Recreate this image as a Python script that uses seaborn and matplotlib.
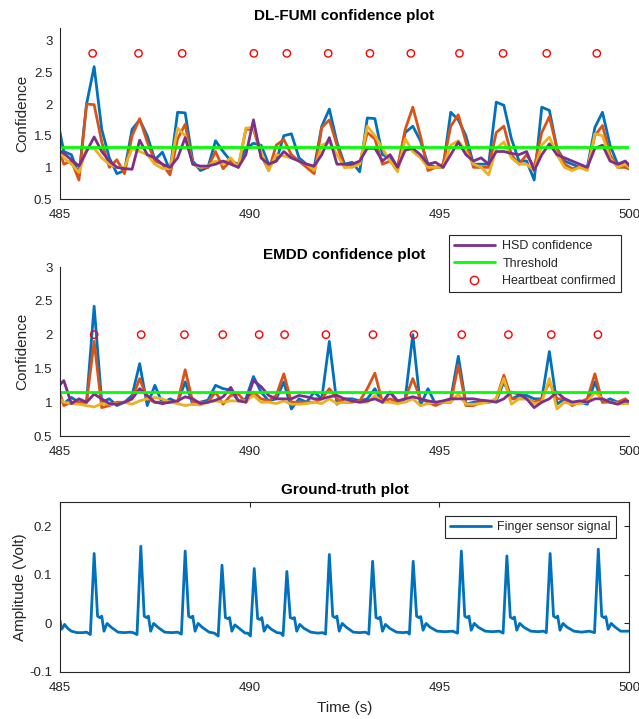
import numpy as np
import pandas as pd
import matplotlib
matplotlib.use("Agg")
import matplotlib.pyplot as plt
import seaborn as sns
from matplotlib.lines import Line2D

# ---------------- data ----------------
t_conf = np.round(484.9 + 0.2 * np.arange(77), 1)

fumi_blue = [1.85, 1.25, 1.2, 0.88, 2.0, 2.59, 1.6, 1.15, 0.9, 0.95,
             1.6, 1.75, 1.5, 1.12, 1.24, 0.95, 1.87, 1.86, 1.1, 0.95,
             1.0, 1.42, 1.25, 1.1, 1.05, 1.3, 1.38, 1.35, 1.05, 1.1,
             1.5, 1.53, 1.15, 1.05, 1.0, 1.65, 1.92, 1.4, 1.05, 1.08,
             0.93, 1.78, 1.77, 1.2, 1.15, 1.0, 1.55, 1.65, 1.42, 1.05,
             1.0, 1.0, 1.87, 1.75, 1.5, 1.05, 1.05, 1.05, 2.03, 1.98,
             1.45, 1.1, 1.1, 0.8, 1.95, 1.9, 1.3, 1.1, 1.05, 1.0,
             1.0, 1.63, 1.87, 1.35, 1.05, 1.05, 1.05]
fumi_orange = [1.45, 1.05, 1.1, 0.8, 2.0, 1.99, 1.4, 1.0, 1.12, 0.9,
               1.5, 1.77, 1.4, 1.1, 1.05, 0.88, 1.45, 1.68, 1.05, 1.0,
               1.0, 1.25, 0.98, 1.1, 1.0, 1.6, 1.6, 1.2, 0.95, 1.35,
               1.44, 1.2, 1.1, 1.0, 0.9, 1.63, 1.75, 1.35, 1.0, 1.05,
               1.05, 1.55, 1.45, 1.05, 1.1, 1.0, 1.6, 1.95, 1.5, 0.95,
               1.0, 1.05, 1.65, 1.83, 1.4, 1.0, 1.0, 1.0, 1.55, 1.65,
               1.2, 1.05, 1.2, 1.0, 1.55, 1.8, 1.3, 1.05, 0.98, 1.0,
               0.97, 1.5, 1.66, 1.2, 1.0, 1.0, 0.95]
fumi_yellow = [1.35, 1.15, 1.05, 0.92, 1.3, 1.3, 1.15, 1.05, 1.0, 1.0,
               1.3, 1.25, 1.2, 1.05, 0.98, 0.98, 1.62, 1.5, 1.05, 1.0,
               1.02, 1.1, 1.05, 1.15, 1.0, 1.62, 1.63, 1.25, 0.95, 1.2,
               1.18, 1.15, 1.1, 1.05, 0.95, 1.35, 1.4, 1.2, 1.0, 1.0,
               1.05, 1.65, 1.5, 1.3, 1.1, 0.93, 1.45, 1.25, 1.15, 1.0,
               1.0, 1.0, 1.35, 1.42, 1.25, 1.05, 1.0, 0.88, 1.3, 1.4,
               1.15, 1.05, 1.05, 0.95, 1.35, 1.48, 1.2, 1.0, 0.95, 1.0,
               0.95, 1.53, 1.5, 1.15, 1.0, 1.05, 0.95]
fumi_hsd = [1.3, 1.22, 1.12, 1.02, 1.25, 1.48, 1.25, 1.1, 1.0, 0.98,
            0.97, 1.43, 1.2, 1.15, 1.05, 1.0, 1.15, 1.47, 1.05, 1.02,
            1.02, 1.05, 1.1, 1.05, 1.0, 1.2, 1.75, 1.15, 1.05, 1.1,
            1.25, 1.15, 1.1, 1.05, 1.02, 1.2, 1.47, 1.05, 1.05, 1.05,
            1.1, 1.3, 1.3, 1.1, 1.2, 1.0, 1.27, 1.3, 1.2, 1.05,
            1.08, 1.0, 1.2, 1.4, 1.2, 1.1, 1.15, 1.05, 1.25, 1.25,
            1.22, 1.2, 1.25, 0.95, 1.2, 1.37, 1.2, 1.15, 1.1, 1.05,
            1.0, 1.3, 1.35, 1.1, 1.05, 1.1, 0.97]

emdd_blue = [1.2, 0.98, 1.07, 1.0, 1.0, 2.42, 1.0, 1.05, 0.95, 1.0,
             1.1, 1.57, 0.95, 1.25, 0.98, 1.05, 1.0, 1.3, 0.97, 1.0,
             1.03, 1.25, 1.2, 1.18, 1.02, 1.05, 1.38, 1.15, 1.02, 1.05,
             1.3, 0.9, 1.05, 1.0, 1.15, 1.05, 1.9, 0.97, 1.05, 1.05,
             1.02, 1.05, 1.2, 1.0, 1.15, 1.0, 1.05, 2.0, 0.95, 1.2,
             0.97, 1.0, 1.05, 1.68, 0.97, 1.0, 1.0, 1.0, 1.02, 1.3,
             1.05, 1.1, 1.1, 1.05, 1.05, 1.75, 0.97, 1.05, 1.0, 1.0,
             0.97, 1.3, 1.0, 1.05, 1.0, 1.0, 1.0]
emdd_orange = [1.3, 0.95, 1.0, 1.0, 1.0, 1.9, 0.92, 0.95, 1.0, 1.0,
               1.05, 1.35, 1.05, 1.0, 1.0, 1.0, 1.0, 1.48, 1.0, 1.0,
               1.0, 1.15, 0.97, 1.1, 1.12, 1.0, 1.15, 1.05, 1.02, 1.1,
               1.42, 1.0, 1.0, 1.0, 1.0, 1.05, 1.2, 1.05, 1.0, 1.0,
               1.02, 1.2, 1.43, 1.0, 1.05, 1.0, 1.05, 1.35, 1.05, 1.0,
               0.95, 1.0, 1.0, 1.55, 0.95, 0.95, 1.0, 1.0, 1.05, 1.4,
               1.05, 1.05, 1.05, 1.0, 1.05, 1.3, 1.05, 1.05, 0.95, 1.0,
               1.05, 1.42, 1.0, 1.0, 1.0, 1.05, 0.95]
emdd_yellow = [1.1, 1.0, 0.98, 0.97, 0.95, 0.93, 0.98, 0.97, 0.98, 1.0,
               0.97, 1.02, 1.05, 1.07, 1.05, 1.0, 0.98, 0.95, 0.97, 0.96,
               1.0, 1.02, 1.0, 1.02, 1.02, 1.02, 1.1, 1.0, 1.0, 0.98,
               1.02, 0.97, 0.97, 0.98, 1.0, 0.98, 1.05, 0.98, 1.0, 1.02,
               1.0, 1.0, 1.1, 1.0, 1.0, 0.98, 1.0, 1.05, 0.95, 0.98,
               1.0, 1.0, 1.0, 1.12, 0.97, 0.97, 0.98, 1.0, 1.05, 1.35,
               0.97, 1.05, 1.05, 0.98, 1.0, 1.35, 0.9, 1.0, 0.97, 0.98,
               1.0, 1.15, 1.05, 1.0, 0.98, 0.98, 0.97]
emdd_hsd = [1.2, 1.32, 0.98, 1.05, 1.0, 1.12, 1.05, 0.98, 0.97, 1.0,
            1.05, 1.2, 1.1, 1.0, 0.98, 1.0, 1.02, 1.08, 1.05, 0.98,
            1.0, 1.03, 1.08, 1.22, 1.02, 1.0, 1.32, 1.23, 1.1, 1.05,
            1.05, 1.05, 1.1, 1.08, 1.05, 1.05, 1.08, 1.1, 1.05, 1.02,
            1.0, 1.02, 1.05, 1.0, 1.15, 1.02, 1.05, 1.08, 1.05, 1.02,
            1.0, 1.02, 1.05, 1.05, 1.05, 1.05, 1.03, 1.02, 1.0, 1.05,
            1.15, 1.12, 1.05, 0.92, 1.0, 1.05, 1.15, 1.05, 1.0, 1.02,
            1.0, 1.05, 1.05, 1.0, 0.97, 1.02, 1.0]

fumi_threshold = 1.32
emdd_threshold = 1.15

fumi_beats = [485.86, 487.07, 488.22, 490.11, 490.98, 492.07, 493.17,
              494.25, 495.53, 496.68, 497.83, 499.15]
fumi_beat_level = 2.8
emdd_beats = [485.90, 487.14, 488.28, 489.29, 490.25, 490.92, 492.01,
              493.25, 494.33, 495.59, 496.82, 497.95, 499.18]
emdd_beat_level = 2.0

gt_t = [485.00, 485.04, 485.08, 485.12, 485.20, 485.30, 485.45, 485.60, 485.70, 485.80,
        485.90, 485.99, 486.05, 486.10, 486.16, 486.24, 486.35, 486.53, 486.70, 486.85,
        486.93, 487.03,
        487.13, 487.22, 487.28, 487.33, 487.39, 487.47, 487.58, 487.76, 487.95, 488.10,
        488.20,
        488.30, 488.39, 488.45, 488.50, 488.56, 488.64, 488.75, 488.93, 489.07, 489.17,
        489.27, 489.36, 489.42, 489.47, 489.53, 489.61, 489.72, 489.88, 489.95, 490.02,
        490.12, 490.21, 490.27, 490.32, 490.38, 490.46, 490.57, 490.72, 490.82, 490.88,
        490.98, 491.07, 491.13, 491.18, 491.24, 491.32, 491.43, 491.61, 491.80, 491.92,
        492.00,
        492.10, 492.19, 492.25, 492.30, 492.36, 492.44, 492.55, 492.73, 492.90, 493.05,
        493.14,
        493.24, 493.33, 493.39, 493.44, 493.50, 493.58, 493.69, 493.87, 494.05, 494.15,
        494.21,
        494.31, 494.40, 494.46, 494.51, 494.57, 494.65, 494.76, 494.94, 495.15, 495.35,
        495.48,
        495.58, 495.67, 495.73, 495.78, 495.84, 495.92, 496.03, 496.21, 496.40, 496.58,
        496.68,
        496.78, 496.87, 496.93, 496.98, 497.04, 497.12, 497.23, 497.41, 497.60, 497.75,
        497.82,
        497.92, 498.01, 498.07, 498.12, 498.18, 498.26, 498.37, 498.55, 498.75, 498.95,
        499.09,
        499.19, 499.28, 499.34, 499.39, 499.45, 499.53, 499.64, 499.78, 499.90, 500.00]
gt_v = [0.006, -0.012, -0.008, -0.002, -0.010, -0.016, -0.019, -0.019, -0.018, -0.023,
        0.144, 0.015, 0.012, 0.015, -0.016, 0.000, -0.008, -0.018, -0.019, -0.018,
        -0.019, -0.023,
        0.159, 0.015, 0.012, 0.015, -0.016, 0.000, -0.008, -0.018, -0.019, -0.018,
        -0.022,
        0.149, 0.015, 0.012, 0.015, -0.016, 0.000, -0.008, -0.018, -0.020, -0.026,
        0.120, 0.012, 0.010, 0.012, -0.016, -0.003, -0.010, -0.020, -0.020, -0.026,
        0.113, 0.010, 0.008, 0.012, -0.016, -0.004, -0.012, -0.019, -0.020, -0.025,
        0.107, 0.012, 0.010, 0.012, -0.016, -0.002, -0.010, -0.018, -0.020, -0.019,
        -0.022,
        0.142, 0.015, 0.012, 0.015, -0.016, 0.000, -0.008, -0.018, -0.019, -0.018,
        -0.022,
        0.128, 0.012, 0.010, 0.013, -0.016, -0.002, -0.010, -0.018, -0.019, -0.018,
        -0.022,
        0.128, 0.015, 0.012, 0.014, -0.014, 0.000, -0.008, -0.016, -0.017, -0.016,
        -0.020,
        0.149, 0.015, 0.012, 0.015, -0.014, 0.000, -0.008, -0.016, -0.017, -0.016,
        -0.020,
        0.139, 0.013, 0.010, 0.013, -0.014, 0.000, -0.008, -0.016, -0.017, -0.016,
        -0.019,
        0.144, 0.015, 0.012, 0.015, -0.014, 0.000, -0.008, -0.016, -0.018, -0.016,
        -0.019,
        0.153, 0.015, 0.012, 0.014, -0.012, 0.000, -0.008, -0.016, -0.016, -0.016]

x_ticks = [485, 490, 495, 500]
conf_yticks = [0.5, 1, 1.5, 2, 2.5, 3]
conf_yticklabels = ["0.5", "1", "1.5", "2", "2.5", "3"]
gt_yticks = [-0.1, 0, 0.1, 0.2]
gt_yticklabels = ["-0.1", "0", "0.1", "0.2"]

# ---------------- style ----------------
sns.set_style("white")
plt.rcParams['font.family'] = ['Liberation Sans', 'DejaVu Sans']
AX_COL = '#262626'
plt.rcParams.update({
    'axes.edgecolor': AX_COL, 'xtick.color': AX_COL, 'ytick.color': AX_COL,
    'axes.labelcolor': AX_COL, 'axes.linewidth': 0.8,
    'xtick.direction': 'in', 'ytick.direction': 'in',
    'xtick.major.size': 3.5, 'ytick.major.size': 3.5,
    'xtick.major.width': 0.8, 'ytick.major.width': 0.8,
})

C_BLUE, C_ORANGE, C_YELLOW, C_PURPLE = '#0072BD', '#D95319', '#EDB120', '#7E2F8E'
C_GREEN, C_RED = '#00FF00', '#FF0000'
LW = 2.0
XPAD, YPAD = 7.5, 5.5

fig = plt.figure(figsize=(6.39, 7.19), dpi=100)
ax1 = fig.add_axes([0.0939, 0.7232, 0.8905, 0.2378])
ax2 = fig.add_axes([0.0939, 0.3936, 0.8905, 0.2350])
ax3 = fig.add_axes([0.0939, 0.0654, 0.8905, 0.2364])


def conf_panel(ax, blue, orange, yellow, hsd, thr, beats, level, title, ylim_top):
    for vals, col in [(blue, C_BLUE), (orange, C_ORANGE), (yellow, C_YELLOW), (hsd, C_PURPLE)]:
        sns.lineplot(x=t_conf, y=vals, ax=ax, color=col, linewidth=LW,
                     estimator=None, sort=False)
    ax.axhline(thr, color=C_GREEN, linewidth=LW)
    sns.scatterplot(x=beats, y=[level] * len(beats), ax=ax, marker='o', s=28,
                    facecolor='none', edgecolor=C_RED, linewidth=1.0, zorder=5)
    ax.set_xlim(485, 500)
    ax.set_ylim(0.5, ylim_top)
    ax.set_xticks(x_ticks)
    ax.set_xticklabels([str(v) for v in x_ticks], fontsize=9.5)
    ax.set_yticks(conf_yticks)
    ax.set_yticklabels(conf_yticklabels, fontsize=9.5)
    ax.set_ylabel('Confidence', fontsize=11, labelpad=3)
    ax.set_xlabel('')
    ax.set_title(title, fontsize=11, fontweight='bold', color='black', pad=6)
    for s in ['top', 'right']:
        ax.spines[s].set_visible(False)
    ax.tick_params(axis='both', which='both', top=False, right=False)
    ax.tick_params(axis='x', pad=XPAD)
    ax.tick_params(axis='y', pad=YPAD)


conf_panel(ax1, fumi_blue, fumi_orange, fumi_yellow, fumi_hsd, fumi_threshold,
           fumi_beats, fumi_beat_level, 'DL-FUMI confidence plot', 3.2)
conf_panel(ax2, emdd_blue, emdd_orange, emdd_yellow, emdd_hsd, emdd_threshold,
           emdd_beats, emdd_beat_level, 'EMDD confidence plot', 3.0)

handles = [Line2D([], [], color=C_PURPLE, linewidth=LW),
           Line2D([], [], color=C_GREEN, linewidth=LW),
           Line2D([], [], color=C_RED, marker='o', linestyle='none',
                  markerfacecolor='none', markersize=6, markeredgewidth=1.0)]
leg2 = ax2.legend(handles, ['HSD confidence', 'Threshold', 'Heartbeat confirmed'],
                  loc='upper right', bbox_to_anchor=(0.972, 0.673),
                  bbox_transform=fig.transFigure, fontsize=9, fancybox=False,
                  framealpha=1, edgecolor=AX_COL, handlelength=3.3,
                  borderpad=0.4, labelspacing=0.45, handletextpad=0.6,
                  borderaxespad=0)
leg2.get_frame().set_linewidth(0.8)

# ground truth
sns.lineplot(x=gt_t, y=gt_v, ax=ax3, color=C_BLUE, linewidth=LW,
             estimator=None, sort=False, label='Finger sensor signal')
ax3.set_xlim(485, 500)
ax3.set_ylim(-0.1, 0.25)
ax3.set_xticks(x_ticks)
ax3.set_xticklabels([str(v) for v in x_ticks], fontsize=9.5)
ax3.set_yticks(gt_yticks)
ax3.set_yticklabels(gt_yticklabels, fontsize=9.5)
ax3.set_ylabel('Amplitude (Volt)', fontsize=11, labelpad=2)
ax3.set_xlabel('Time (s)', fontsize=11, labelpad=5)
ax3.set_title('Ground-truth plot', fontsize=11, fontweight='bold', color='black', pad=6)
ax3.tick_params(axis='both', which='both', top=True, right=True)
ax3.tick_params(axis='x', pad=XPAD)
ax3.tick_params(axis='y', pad=YPAD)
leg3 = ax3.legend(loc='upper right', bbox_to_anchor=(0.977, 0.918), fontsize=9,
                  fancybox=False, framealpha=1, edgecolor=AX_COL, handlelength=3.3,
                  borderpad=0.4, handletextpad=0.5, borderaxespad=0)
leg3.get_frame().set_linewidth(0.8)

fig.savefig('out.png', dpi=100)
